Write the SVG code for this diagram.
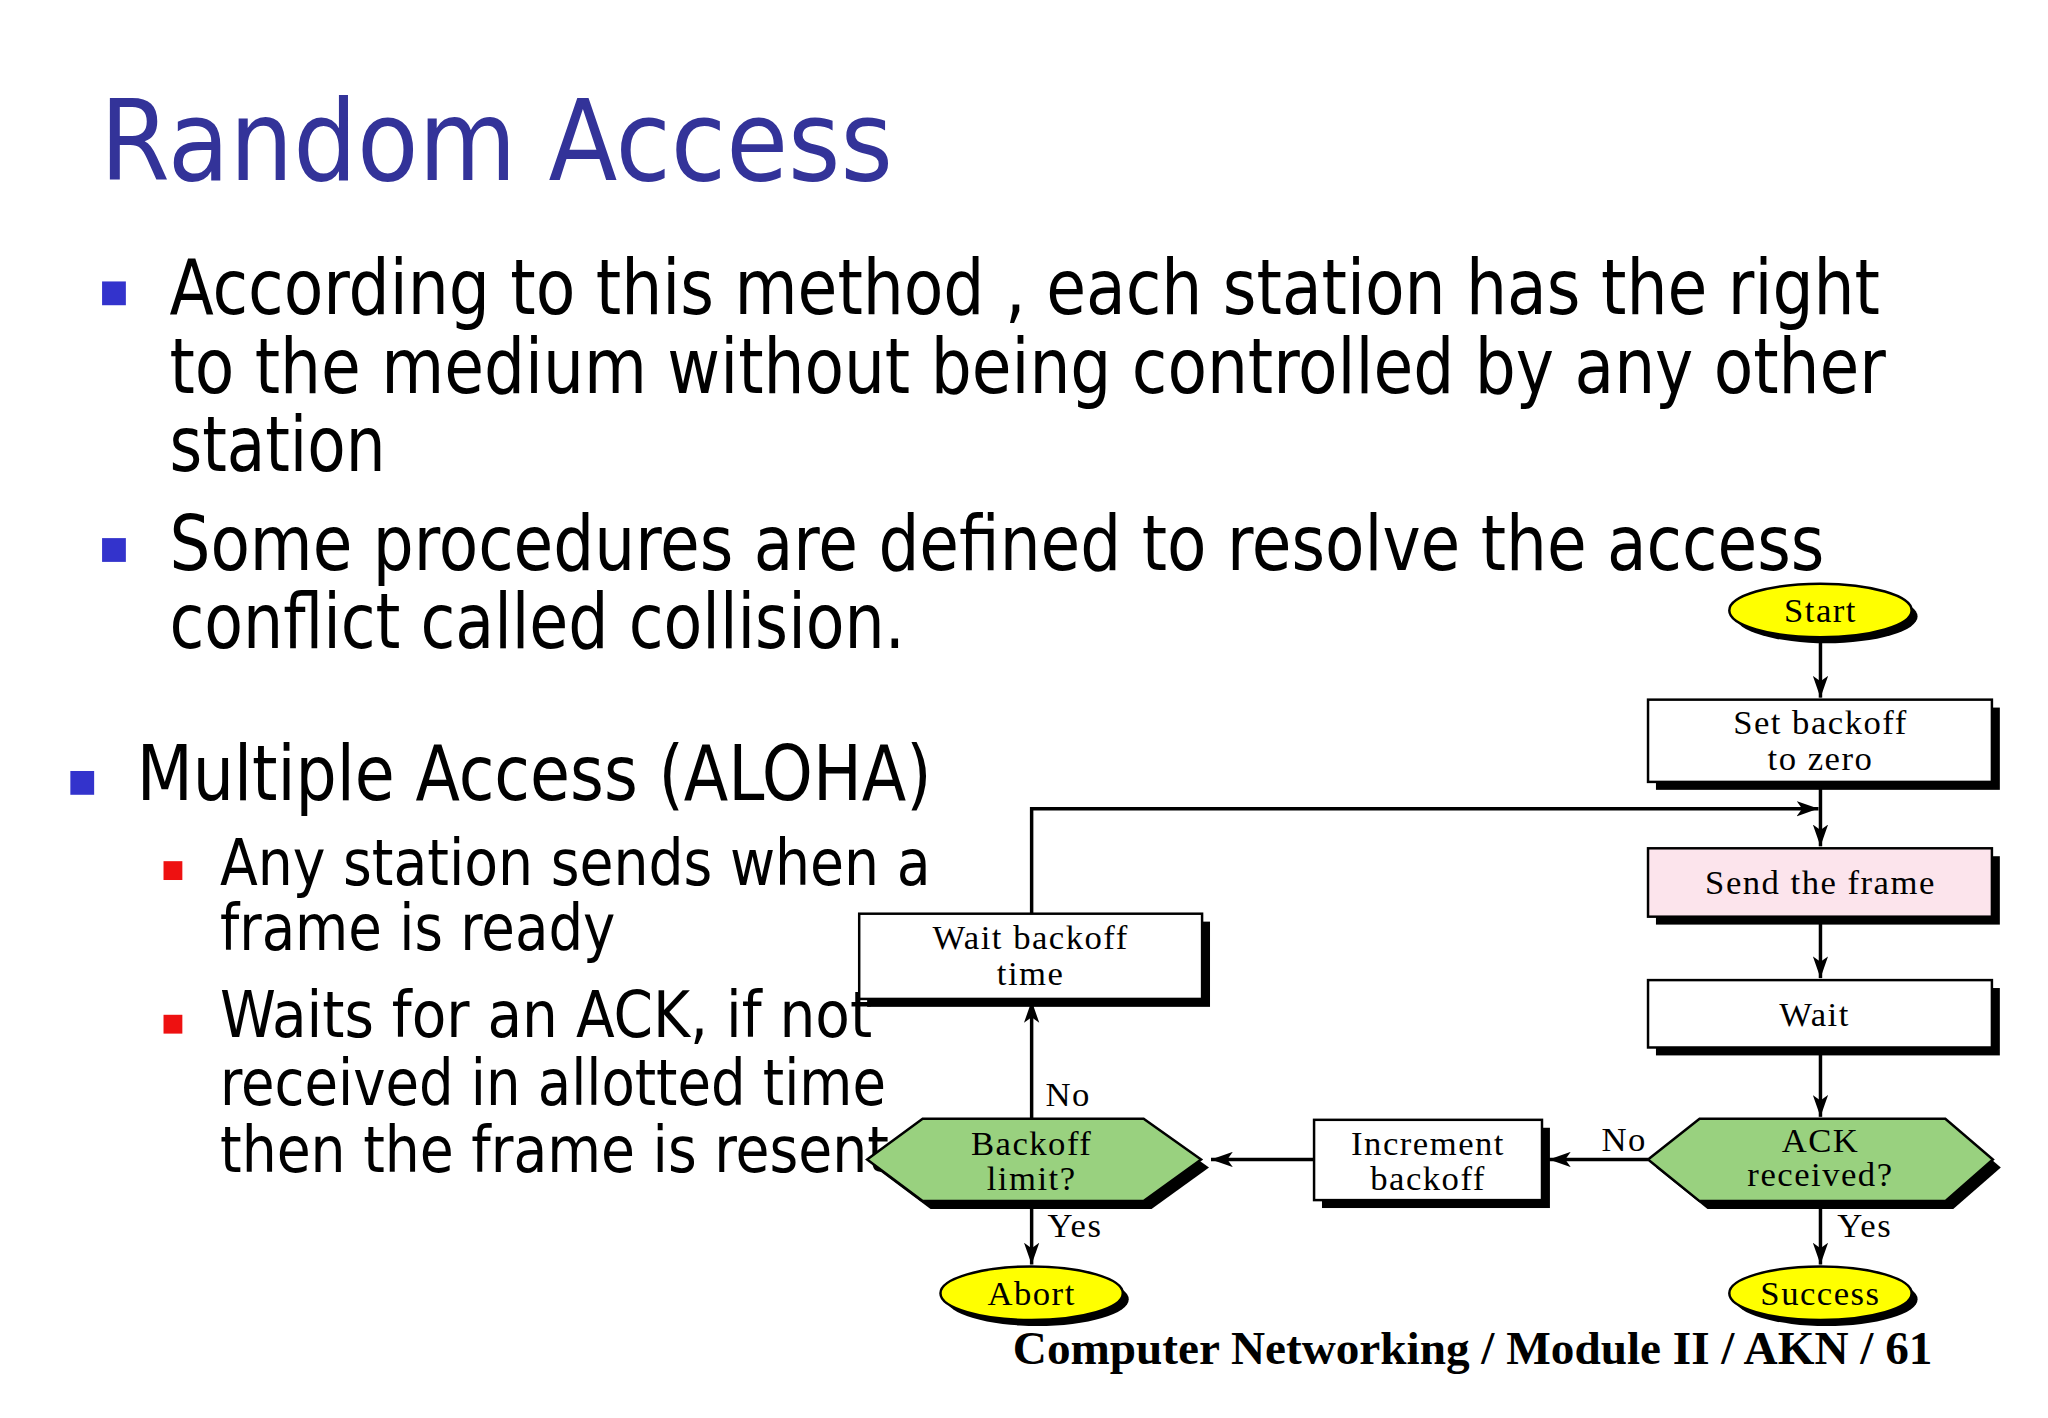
<svg xmlns="http://www.w3.org/2000/svg" width="2048" height="1418" viewBox="0 0 2048 1418">
<style>
.t{font-family:"DejaVu Sans Condensed","DejaVu Sans",sans-serif;fill:#000}
.f{font-family:"Liberation Serif",serif;font-size:35px;fill:#000;text-anchor:middle;letter-spacing:1.5px}
.box{fill:#fff;stroke:#000;stroke-width:2.5}
.sh{fill:#000}
.hex{fill:#99d17f;stroke:#000;stroke-width:2.5}
.ell{fill:#ffff00;stroke:#000;stroke-width:2.5}
.c{fill:none;stroke:#000;stroke-width:3.5}
</style>
<defs>
<marker id="a" viewBox="0 0 20 14" refX="20" refY="7" markerWidth="22" markerHeight="16" markerUnits="userSpaceOnUse" orient="auto">
<path d="M0,0 L20,7 L0,14 L5,7 Z" fill="#000"/>
</marker>
</defs>
<rect width="2048" height="1418" fill="#fff"/>
<g transform="scale(0.991)">
<text x="101" y="182" class="t" style="font-family:'DejaVu Sans',sans-serif;fill:#333399" font-size="114" textLength="800" lengthAdjust="spacingAndGlyphs">Random Access</text>
<rect x="103" y="284" width="24" height="24" fill="#3333cc"/>
<rect x="103" y="543" width="24" height="24" fill="#3333cc"/>
<text class="t" font-size="77"><tspan x="171" y="317" textLength="1726" lengthAdjust="spacingAndGlyphs">According to this method , each station has the right</tspan><tspan x="171" y="397" textLength="1732" lengthAdjust="spacingAndGlyphs">to the medium without being controlled by any other</tspan><tspan x="171" y="475" textLength="218" lengthAdjust="spacingAndGlyphs">station</tspan><tspan x="171" y="575" textLength="1670" lengthAdjust="spacingAndGlyphs">Some procedures are defined to resolve the access</tspan><tspan x="171" y="654" textLength="742" lengthAdjust="spacingAndGlyphs">conflict called collision.</tspan></text>
<rect x="71" y="778" width="24" height="24" fill="#3333cc"/>
<text x="138" y="807" class="t" font-size="77" textLength="802" lengthAdjust="spacingAndGlyphs">Multiple Access (ALOHA)</text>
<rect x="165" y="869" width="19" height="19" fill="#ee1111"/>
<rect x="165" y="1024" width="19" height="19" fill="#ee1111"/>
<text class="t" font-size="64"><tspan x="222" y="893" textLength="717" lengthAdjust="spacingAndGlyphs">Any station sends when a</tspan><tspan x="222" y="959" textLength="399" lengthAdjust="spacingAndGlyphs">frame is ready</tspan><tspan x="222" y="1046" textLength="658" lengthAdjust="spacingAndGlyphs">Waits for an ACK, if not</tspan><tspan x="222" y="1115" textLength="672" lengthAdjust="spacingAndGlyphs">received in allotted time</tspan><tspan x="222" y="1183" textLength="675" lengthAdjust="spacingAndGlyphs">then the frame is resent</tspan></text>

<g id="connectors">
<path class="c" d="M1837,643 V704" marker-end="url(#a)"/>
<path class="c" d="M1837,789 V854" marker-end="url(#a)"/>
<path class="c" d="M1041,922 V816 H1835" marker-end="url(#a)"/>
<path class="c" d="M1837,931 V987" marker-end="url(#a)"/>
<path class="c" d="M1837,1063 V1127" marker-end="url(#a)"/>
<path class="c" d="M1837,1218 V1276" marker-end="url(#a)"/>
<path class="c" d="M1663,1170 H1563" marker-end="url(#a)"/>
<path class="c" d="M1326,1170 H1222" marker-end="url(#a)"/>
<path class="c" d="M1041,1129 V1010" marker-end="url(#a)"/>
<path class="c" d="M1041,1218 V1276" marker-end="url(#a)"/>
<text x="1854" y="1248" class="f" style="text-anchor:start">Yes</text>
<text x="1057" y="1248" class="f" style="text-anchor:start">Yes</text>
<text x="1616" y="1161" class="f" style="text-anchor:start">No</text>
<text x="1055" y="1116" class="f" style="text-anchor:start">No</text>
</g>

<g id="start"><ellipse cx="1843" cy="622" rx="92" ry="27" class="sh"/><ellipse cx="1837" cy="616" rx="92" ry="27" class="ell"/><text x="1837" y="628" class="f">Start</text></g>
<g id="setbackoff"><rect x="1671" y="714" width="347" height="83" class="sh"/><rect x="1663" y="706" width="347" height="83" class="box"/><text x="1837" y="741" class="f">Set backoff</text><text x="1837" y="777" class="f">to zero</text></g>
<g id="send"><rect x="1671" y="864" width="347" height="69" class="sh"/><rect x="1663" y="856" width="347" height="69" class="box" style="fill:#fce4ec"/><text x="1837" y="902" class="f">Send the frame</text></g>
<g id="wait"><rect x="1671" y="997" width="347" height="68" class="sh"/><rect x="1663" y="989" width="347" height="68" class="box"/><text x="1831" y="1035" class="f">Wait</text></g>
<g id="ack"><polygon points="1671,1178 1723,1137 1971,1137 2019,1178 1971,1220 1723,1220" class="sh"/><polygon points="1663,1170 1715,1129 1963,1129 2011,1170 1963,1212 1715,1212" class="hex"/><text x="1837" y="1162" class="f">ACK</text><text x="1837" y="1197" class="f">received?</text></g>
<g id="success"><ellipse cx="1843" cy="1311" rx="92" ry="27" class="sh"/><ellipse cx="1837" cy="1305" rx="92" ry="27" class="ell"/><text x="1837" y="1317" class="f">Success</text></g>
<g id="increment"><rect x="1334" y="1138" width="230" height="81" class="sh"/><rect x="1326" y="1130" width="230" height="81" class="box"/><text x="1441" y="1165" class="f">Increment</text><text x="1441" y="1201" class="f">backoff</text></g>
<g id="limit"><polygon points="883,1178 939,1137 1162,1137 1220,1178 1162,1220 939,1220" class="sh"/><polygon points="875,1170 931,1129 1154,1129 1212,1170 1154,1212 931,1212" class="hex"/><text x="1041" y="1165" class="f">Backoff</text><text x="1041" y="1201" class="f">limit?</text></g>
<g id="waitbackoff"><rect x="875" y="930" width="346" height="86" class="sh"/><rect x="867" y="922" width="346" height="86" class="box"/><text x="1040" y="958" class="f">Wait backoff</text><text x="1040" y="994" class="f">time</text></g>
<g id="abort"><ellipse cx="1047" cy="1311" rx="92" ry="27" class="sh"/><ellipse cx="1041" cy="1305" rx="92" ry="27" class="ell"/><text x="1041" y="1317" class="f">Abort</text></g>
<text x="1022" y="1376" style="font-family:'Liberation Serif',serif;font-weight:bold" font-size="46" textLength="928" lengthAdjust="spacingAndGlyphs">Computer Networking / Module II / AKN / 61</text>
</g>
</svg>
